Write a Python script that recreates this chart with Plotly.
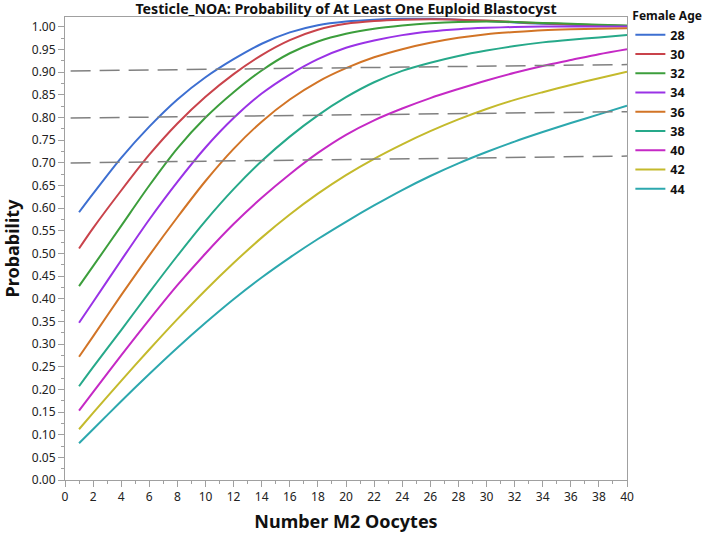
import plotly.graph_objects as go

# ---- data ----
oocytes = [1, 2, 4, 6, 8, 10, 12, 14, 16, 18, 20, 22, 24, 26, 28, 30, 32, 34, 36, 38, 40]

age_28 = [0.591, 0.632, 0.711, 0.780, 0.840, 0.889, 0.929, 0.963, 0.988, 1.004, 1.012,
          1.016, 1.018, 1.018, 1.016, 1.013, 1.010, 1.007, 1.005, 1.003, 1.002]
age_30 = [0.511, 0.556, 0.639, 0.718, 0.787, 0.846, 0.896, 0.938, 0.971, 0.994, 1.007,
          1.013, 1.016, 1.017, 1.016, 1.014, 1.011, 1.008, 1.006, 1.004, 1.002]
age_32 = [0.428, 0.472, 0.561, 0.650, 0.732, 0.800, 0.856, 0.904, 0.942, 0.968, 0.985,
          0.996, 1.003, 1.008, 1.011, 1.012, 1.011, 1.009, 1.007, 1.005, 1.003]
age_34 = [0.347, 0.393, 0.485, 0.575, 0.658, 0.734, 0.799, 0.853, 0.895, 0.929, 0.954,
          0.970, 0.982, 0.990, 0.995, 0.998, 1.000, 1.001, 1.001, 1.001, 1.001]
age_36 = [0.272, 0.317, 0.408, 0.496, 0.580, 0.660, 0.731, 0.791, 0.840, 0.879, 0.909,
          0.933, 0.951, 0.965, 0.976, 0.984, 0.989, 0.993, 0.995, 0.996, 0.997]
age_38 = [0.207, 0.249, 0.331, 0.414, 0.495, 0.572, 0.642, 0.704, 0.758, 0.805, 0.845,
          0.878, 0.903, 0.921, 0.936, 0.948, 0.958, 0.966, 0.972, 0.977, 0.982]
age_40 = [0.153, 0.194, 0.275, 0.354, 0.430, 0.500, 0.565, 0.623, 0.675, 0.722, 0.762,
          0.794, 0.820, 0.843, 0.863, 0.882, 0.899, 0.914, 0.927, 0.940, 0.951]
age_42 = [0.112, 0.148, 0.219, 0.288, 0.355, 0.419, 0.479, 0.535, 0.586, 0.632, 0.673,
          0.709, 0.741, 0.770, 0.796, 0.819, 0.839, 0.856, 0.872, 0.887, 0.901]
age_44 = [0.081, 0.112, 0.174, 0.234, 0.292, 0.347, 0.399, 0.447, 0.491, 0.532, 0.570,
          0.606, 0.640, 0.671, 0.699, 0.724, 0.747, 0.768, 0.788, 0.807, 0.826]

age_labels = ["28", "30", "32", "34", "36", "38", "40", "42", "44"]
series = [age_28, age_30, age_32, age_34, age_36, age_38, age_40, age_42, age_44]
colors = ["#3D6FD1", "#C9434B", "#3C9E3C", "#9A32E6", "#D27426",
          "#26A98A", "#C529C5", "#C4BA2C", "#2CA8AE"]

# dashed reference lines (start / end values)
ref_x = [0.4, 40]
ref_90 = [0.903, 0.917]
ref_80 = [0.799, 0.813]
ref_70 = [0.700, 0.715]

FONT = "Noto Sans"

fig = go.Figure()
for lab, ys, col in zip(age_labels, series, colors):
    fig.add_trace(go.Scatter(
        x=oocytes, y=ys, mode="lines", name=lab,
        line=dict(color=col, width=2, shape="spline", smoothing=0.8),
    ))

for ref in (ref_90, ref_80, ref_70):
    fig.add_trace(go.Scatter(
        x=ref_x, y=ref, mode="lines", showlegend=False, hoverinfo="skip",
        line=dict(color="#808080", width=1.5, dash="20px,9px"),
    ))

fig.update_layout(
    width=708, height=533,
    margin=dict(l=65, r=81, t=17, b=53, autoexpand=False),
    paper_bgcolor="white", plot_bgcolor="white",
    font=dict(family=FONT, color="#222222", size=12),
    title=dict(
        text="<b>Testicle_NOA: Probability of At Least One Euploid Blastocyst</b>",
        x=(65 + 627) / 2 / 708, xanchor="center", xref="container",
        y=1 - 9 / 533, yanchor="middle", yref="container",
        font=dict(family=FONT, size=14.2, color="#111111"),
    ),
    legend=dict(
        title=dict(text="<b>Female Age</b>", font=dict(size=12, color="#111111")),
        x=1.006, xanchor="left", y=1.027, yanchor="top",
        font=dict(size=12.5, color="#111111", family=FONT, weight="bold"),
        bgcolor="rgba(0,0,0,0)", tracegroupgap=0, itemwidth=30,
    ),
    showlegend=True,
)

fig.update_xaxes(
    range=[0, 40], tickmode="linear", tick0=0, dtick=2, automargin=False,
    ticks="outside", ticklen=6, tickcolor="#a0a0a0", tickwidth=1,
    minor=dict(dtick=1, ticks="outside", ticklen=3, tickcolor="#a0a0a0"),
    showline=True, linecolor="#a0a0a0", linewidth=1, mirror=True,
    showgrid=False, zeroline=False,
    tickfont=dict(size=12, color="#222222"),
    title=dict(text="<b>Number M2 Oocytes</b>", font=dict(size=18, color="#111111"), standoff=12),
)
fig.update_yaxes(
    range=[0, 1.022], tickmode="linear", tick0=0, dtick=0.05, tickformat=".2f",
    automargin=False,
    ticks="outside", ticklen=6, tickcolor="#a0a0a0", tickwidth=1,
    minor=dict(dtick=0.025, ticks="outside", ticklen=3, tickcolor="#a0a0a0"),
    showline=True, linecolor="#a0a0a0", linewidth=1, mirror=True,
    showgrid=False, zeroline=False,
    tickfont=dict(size=12, color="#222222"),
    title=dict(text="<b>Probability</b>", font=dict(size=18, color="#111111"), standoff=8),
)

fig.write_html("out.html", config={"displayModeBar": False},
               post_script="document.body.style.margin='0px';")
